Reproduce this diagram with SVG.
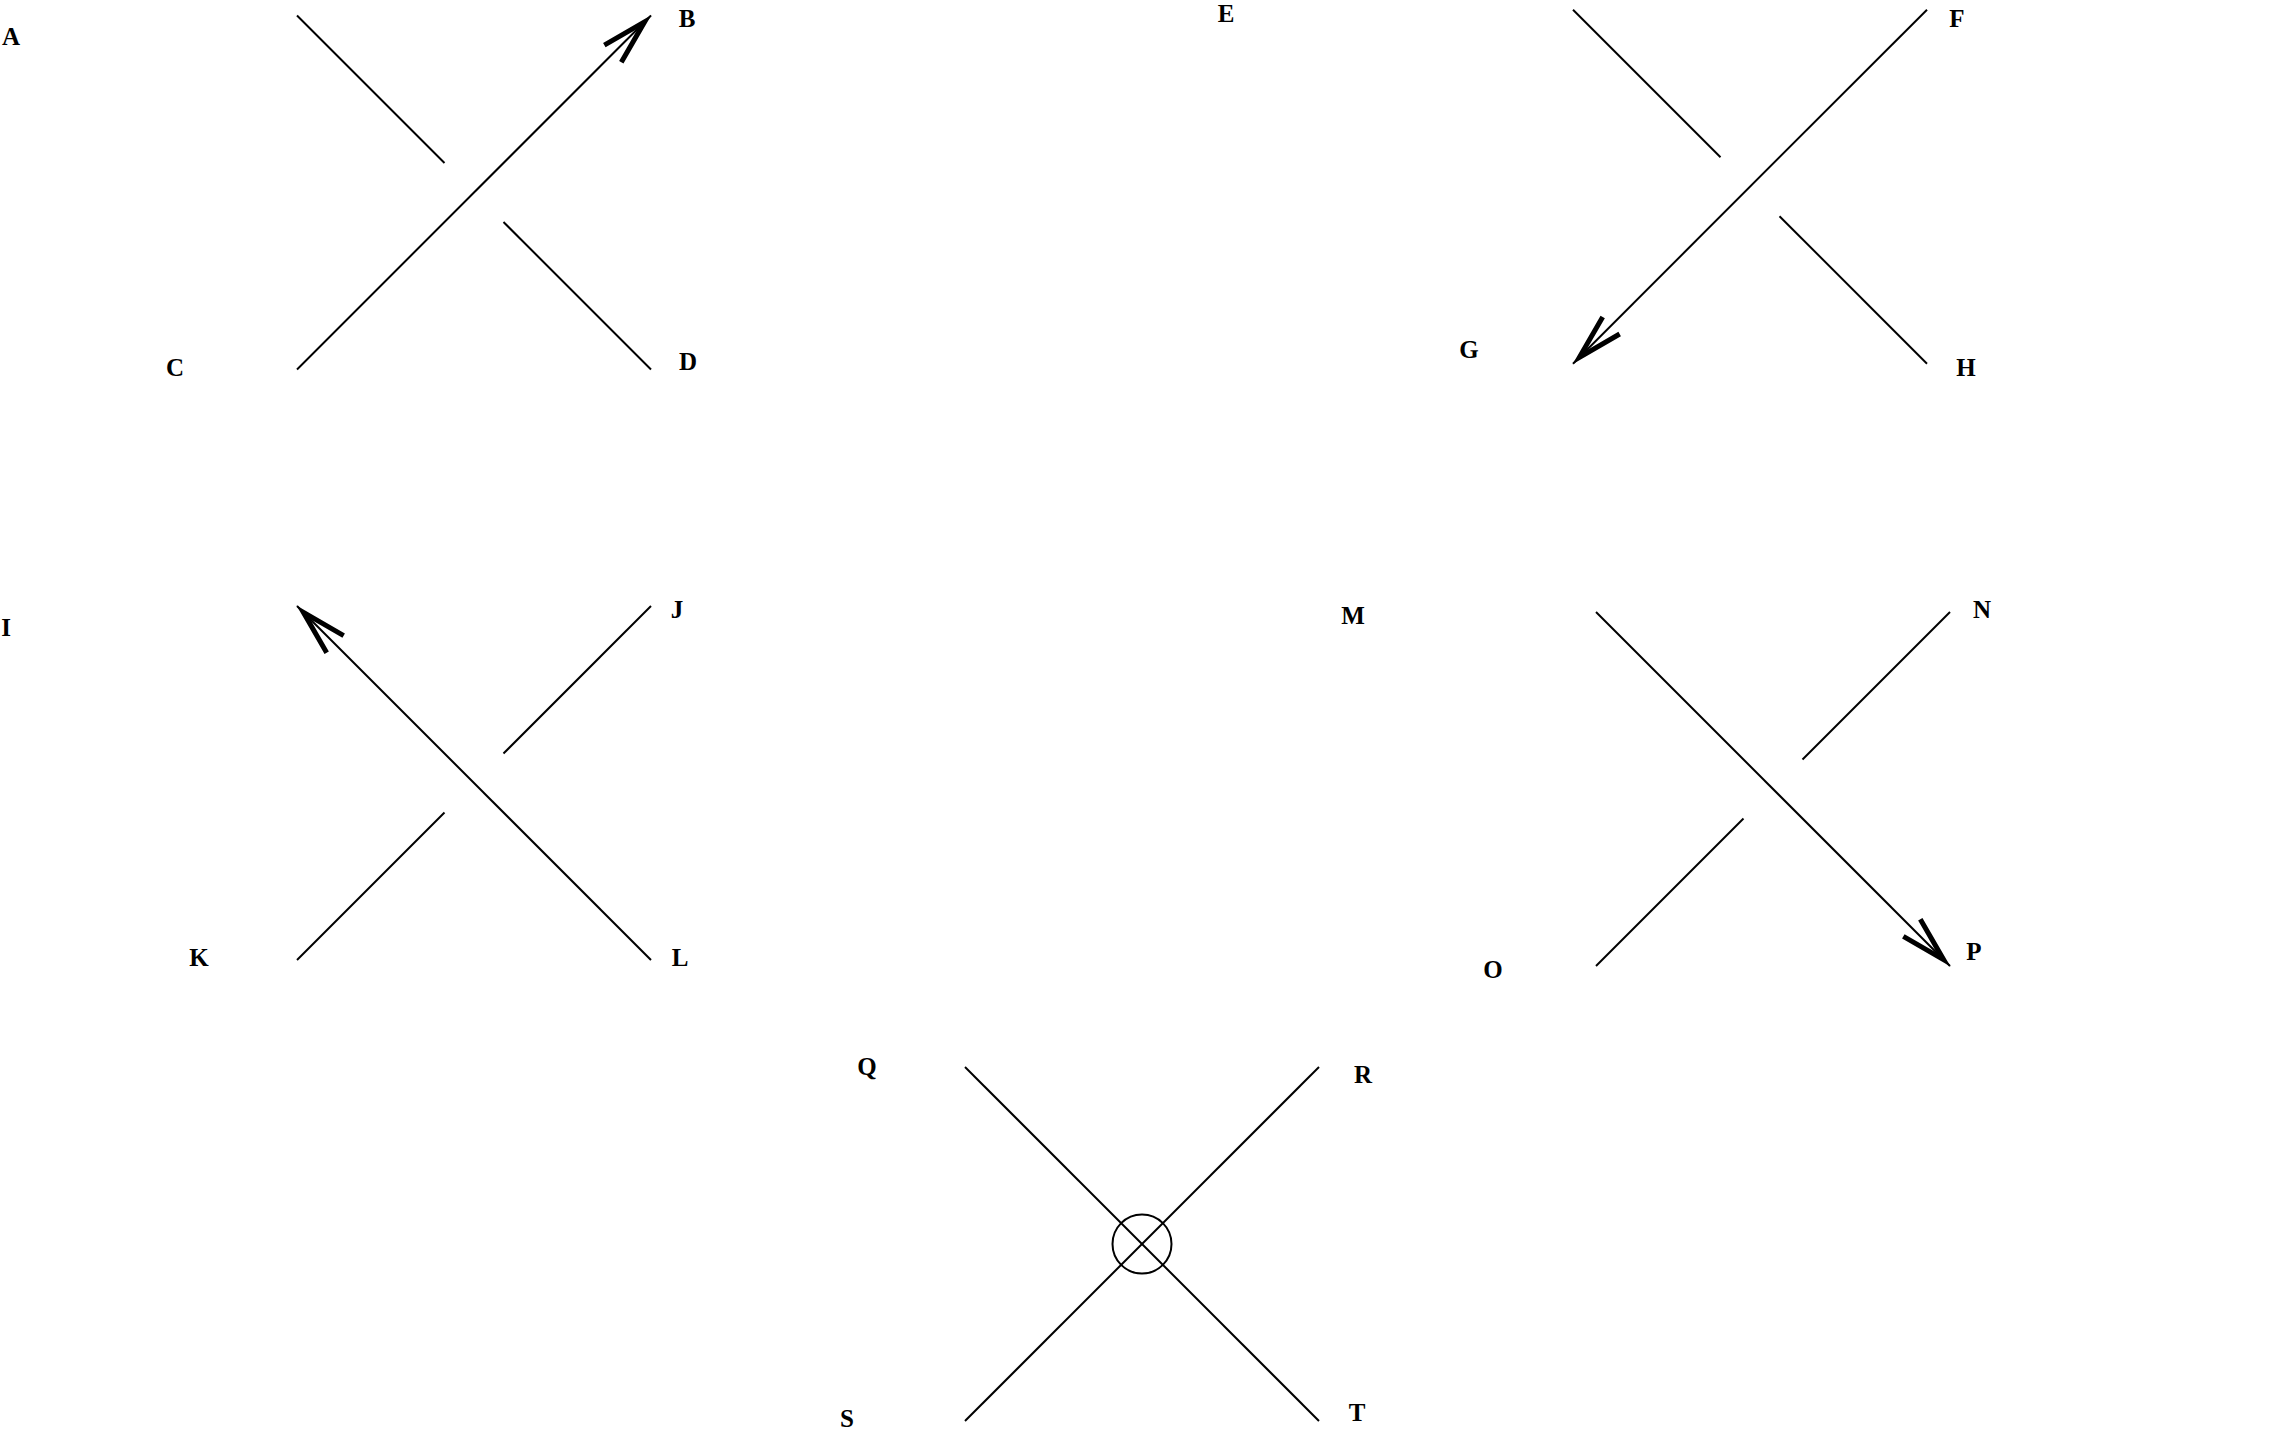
<svg xmlns="http://www.w3.org/2000/svg" width="2285" height="1429" viewBox="0 0 2285 1429">
<style>
  .s { stroke: #000; stroke-width: 2; fill: none; stroke-linecap: butt; }
  .lbl { font-family: "Liberation Serif", "Times New Roman", serif; font-size: 25px; font-weight: bold; fill: #000; text-anchor: middle; }
</style>
<defs>
  <marker id="arr" markerUnits="userSpaceOnUse" markerWidth="80" markerHeight="40" refX="0" refY="0" orient="auto" overflow="visible" viewBox="-70 -20 80 40">
    <path d="M-54,-12 L-9,0 L-54,12" fill="none" stroke="#000" stroke-width="5" stroke-miterlimit="12" stroke-linejoin="miter"/>
  </marker>
</defs>
<rect width="2285" height="1429" fill="#fff"/>

<g id="crossing1">
  <line class="s" x1="297" y1="15.5" x2="444.5" y2="163"/>
  <line class="s" x1="503.5" y1="222" x2="651" y2="369.5"/>
  <line class="s" x1="297" y1="369.5" x2="651" y2="15.5" marker-end="url(#arr)"/>
  <text class="lbl" x="11" y="45">A</text>
  <text class="lbl" x="687" y="27">B</text>
  <text class="lbl" x="175" y="376">C</text>
  <text class="lbl" x="688" y="370">D</text>
</g>

<g id="crossing2">
  <line class="s" x1="1573" y1="9.7" x2="1720.5" y2="157.2"/>
  <line class="s" x1="1779.5" y1="216.2" x2="1927" y2="363.7"/>
  <line class="s" x1="1927" y1="9.7" x2="1573" y2="363.7" marker-end="url(#arr)"/>
  <text class="lbl" x="1226" y="22">E</text>
  <text class="lbl" x="1957" y="27">F</text>
  <text class="lbl" x="1469" y="358">G</text>
  <text class="lbl" x="1966" y="376">H</text>
</g>

<g id="crossing3">
  <line class="s" x1="651" y1="606" x2="503.5" y2="753.5"/>
  <line class="s" x1="444.5" y1="812.5" x2="297" y2="960"/>
  <line class="s" x1="651" y1="960" x2="297" y2="606" marker-end="url(#arr)"/>
  <text class="lbl" x="6" y="636">I</text>
  <text class="lbl" x="677" y="618">J</text>
  <text class="lbl" x="199" y="966">K</text>
  <text class="lbl" x="680" y="966">L</text>
</g>

<g id="crossing4">
  <line class="s" x1="1950" y1="612" x2="1802.5" y2="759.5"/>
  <line class="s" x1="1743.5" y1="818.5" x2="1596" y2="966"/>
  <line class="s" x1="1596" y1="612" x2="1950" y2="966" marker-end="url(#arr)"/>
  <text class="lbl" x="1353" y="624">M</text>
  <text class="lbl" x="1982" y="618">N</text>
  <text class="lbl" x="1493" y="978">O</text>
  <text class="lbl" x="1974" y="960">P</text>
</g>

<g id="crossing5">
  <line class="s" x1="965" y1="1067" x2="1319" y2="1421"/>
  <line class="s" x1="965" y1="1421" x2="1319" y2="1067"/>
  <circle class="s" cx="1142" cy="1244" r="29.5"/>
  <text class="lbl" x="867" y="1075">Q</text>
  <text class="lbl" x="1363" y="1083">R</text>
  <text class="lbl" x="847" y="1427">S</text>
  <text class="lbl" x="1357" y="1421">T</text>
</g>

<g id="connectors"></g>
</svg>
